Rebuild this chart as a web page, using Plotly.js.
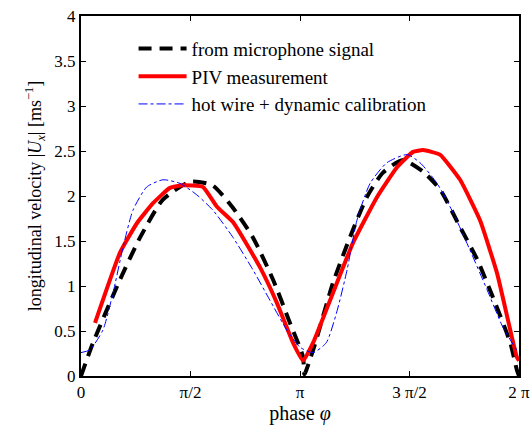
<!DOCTYPE html>
<html><head><meta charset="utf-8">
<script src="https://cdn.plot.ly/plotly-3.0.1.min.js"></script>
<style>html,body{margin:0;padding:0;background:#fff}#plot{width:531px;height:427px}</style>
</head><body><div id="plot"></div>
<script>
// phase in units of pi
const micPhase = [0, 0.055, 0.178, 0.27, 0.374, 0.50, 0.60, 0.69, 0.785, 0.877, 0.954, 1.014, 1.02, 1.06, 1.15, 1.228, 1.306, 1.379, 1.47, 1.562, 1.64, 1.73, 1.81, 1.88, 1.96, 1.99, 2.0];
const micVel   = [0, 0.37, 1.07, 1.54, 1.96, 2.16, 2.12, 1.88, 1.54, 1.07, 0.59, 0.21, 0.02, 0.29, 1.03, 1.54, 1.99, 2.26, 2.40, 2.27, 2.07, 1.66, 1.29, 0.88, 0.37, 0.07, 0.0];

const pivPhase = [0.064, 0.178, 0.256, 0.329, 0.406, 0.466, 0.557, 0.621, 0.694, 0.817, 0.895, 0.968, 1.014, 1.06, 1.15, 1.242, 1.352, 1.443, 1.516, 1.562, 1.639, 1.731, 1.822, 1.90, 1.99, 2.0];
const pivVel   = [0.59, 1.37, 1.70, 1.92, 2.09, 2.12, 2.10, 1.88, 1.71, 1.21, 0.81, 0.37, 0.17, 0.37, 0.92, 1.48, 1.99, 2.32, 2.49, 2.51, 2.46, 2.18, 1.73, 1.14, 0.21, 0.17];

const hwPhase = [0, 0.04, 0.10, 0.146, 0.192, 0.237, 0.30, 0.374, 0.452, 0.53, 0.603, 0.694, 0.785, 0.863, 0.94, 1.0, 1.06, 1.12, 1.17, 1.215, 1.26, 1.32, 1.397, 1.489, 1.548, 1.626, 1.70, 1.776, 1.854, 1.927, 1.99, 2.0];
const hwVel   = [0.26, 0.29, 0.51, 0.92, 1.43, 1.84, 2.10, 2.18, 2.14, 2.01, 1.84, 1.54, 1.18, 0.84, 0.51, 0.32, 0.26, 0.37, 0.73, 1.18, 1.73, 2.14, 2.37, 2.46, 2.37, 2.14, 1.81, 1.40, 0.96, 0.54, 0.29, 0.27];

const xTickVals = [0, 0.5, 1, 1.5, 2];
const xTickText = ['0', 'π/2', 'π', '3 π/2', '2 π'];
const yTickVals = [0, 0.5, 1, 1.5, 2, 2.5, 3, 3.5, 4];

const names = ['from microphone signal', 'PIV measurement', 'hot wire + dynamic calibration'];

const FAM = '"Liberation Serif", "Times New Roman", Times, serif';
function F(size) { return {family: FAM, size: size, color: '#000'}; }

const traces = [
  {x: micPhase, y: micVel, name: names[0], legendgroup: 'a', mode: 'lines', line: {color: '#000', width: 4, dash: '13px,8px', shape: 'spline', smoothing: 0.6}},
  {x: pivPhase, y: pivVel, name: names[1], legendgroup: 'b', mode: 'lines', line: {color: '#ff0000', width: 4, shape: 'spline', smoothing: 0.4}},
  {x: hwPhase, y: hwVel, name: names[2], legendgroup: 'c', mode: 'lines', line: {color: '#0000ff', width: 1, dash: 'dashdot', shape: 'spline', smoothing: 0.6}}
];

const layout = {
  width: 531, height: 427,
  margin: {l: 81, r: 12, t: 16, b: 51},
  paper_bgcolor: '#fff', plot_bgcolor: '#fff',
  font: F(17),
  showlegend: true,
  legend: {x: 0.12, y: 0.962, xanchor: 'left', yanchor: 'top', bgcolor: 'rgba(0,0,0,0)', font: F(19), tracegroupgap: 0, itemwidth: 48},
  xaxis: {
    range: [0, 2], tickvals: xTickVals, ticktext: xTickText,
    ticks: 'inside', ticklen: 5, tickwidth: 1, tickcolor: '#000',
    showline: true, linecolor: '#000', linewidth: 2, mirror: 'allticks',
    showgrid: false, zeroline: false,
    tickfont: F(17),
    title: {text: 'phase <i>φ</i>', font: F(20), standoff: 4}
  },
  yaxis: {
    range: [0, 4], tickvals: yTickVals,
    ticks: 'inside', ticklen: 5, tickwidth: 1, tickcolor: '#000',
    showline: true, linecolor: '#000', linewidth: 2, mirror: 'allticks',
    showgrid: false, zeroline: false,
    tickfont: F(17),
    title: {text: 'longitudinal velocity |<i>U</i><sub><i>x</i></sub>| [ms<sup>−1</sup>]', font: F(18), standoff: 8}
  }
};
Plotly.newPlot('plot', traces, layout, {displayModeBar: false, staticPlot: true});
</script></body></html>
